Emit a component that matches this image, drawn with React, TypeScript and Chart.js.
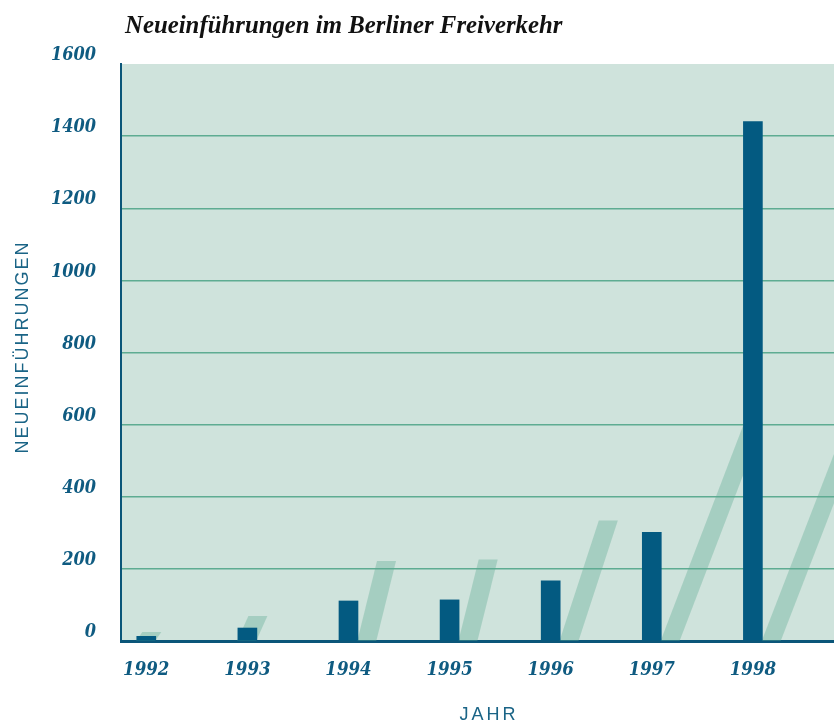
import React, { useEffect, useRef } from 'react';
import { Chart, registerables } from 'chart.js';

Chart.register(...registerables);

// ---- data ----
const years = [1992, 1993, 1994, 1995, 1996, 1997, 1998];
const newListings = [13, 36, 111, 114, 167, 301, 1440];
// decorative slanted "shadow" bands: base x, tip x (in year units) and tip height (in listings)
const shadowBaseX = [1991.899, 1992.899, 1994.087, 1995.087, 1996.087, 1997.087, 1998.087];
const shadowTipX = [1991.961, 1993.01, 1994.282, 1995.288, 1996.476, 1997.914, 2002.06];
const shadowTop = [25, 69, 222, 226, 334, 605, 2880];
const yTickValues = [0, 200, 400, 600, 800, 1000, 1200, 1400, 1600];

const chartTitle = 'Neueinführungen im Berliner Freiverkehr';
const xAxisTitle = 'JAHR';
const yAxisTitle = 'NEUEINFÜHRUNGEN';

// ---- styles ----
const PLOT_BG = '#cfe3dc';
const GRID = '#5eac92';
const BAR = '#035a81';
const AXIS = '#0b5679';
const TICK_TEXT = '#0f5b81';
const TITLE_TEXT = '#111111';
const AXIS_TITLE = '#1a6486';
const SHADOW = 'rgba(94,172,146,0.37)';
const SERIF = '"Liberation Serif", "Times New Roman", serif';
const TICK_SERIF = '"DejaVu Serif Condensed", "DejaVu Serif", serif';
const SANS = '"Liberation Sans", Arial, sans-serif';

const decorPlugin = {
  id: 'decor',
  beforeDraw(chart: any) {
    const { ctx, chartArea: a } = chart;
    ctx.save();
    ctx.fillStyle = PLOT_BG;
    ctx.fillRect(a.left, a.top, a.right - a.left, a.bottom - a.top);
    ctx.restore();
  },
  beforeDatasetsDraw(chart: any) {
    const { ctx, chartArea: a, scales } = chart;
    const xs = scales.x;
    const ys = scales.y;
    const meta = chart.getDatasetMeta(0);
    ctx.save();
    ctx.beginPath();
    ctx.rect(a.left, a.top, a.right - a.left, a.bottom - a.top);
    ctx.clip();
    ctx.fillStyle = SHADOW;
    years.forEach((_, i) => {
      const w = meta.data[i] ? meta.data[i].width : 19;
      const bx = xs.getPixelForValue(shadowBaseX[i]);
      const tx = xs.getPixelForValue(shadowTipX[i]);
      const y0 = ys.getPixelForValue(0);
      const yt = ys.getPixelForValue(shadowTop[i]);
      ctx.beginPath();
      ctx.moveTo(bx, y0);
      ctx.lineTo(bx + w, y0);
      ctx.lineTo(tx + w, yt);
      ctx.lineTo(tx, yt);
      ctx.closePath();
      ctx.fill();
    });
    ctx.restore();
  },
  afterDraw(chart: any) {
    const { ctx } = chart;
    ctx.save();
    // chart title
    ctx.fillStyle = TITLE_TEXT;
    ctx.font = `italic bold 24.8px ${SERIF}`;
    ctx.textAlign = 'left';
    ctx.textBaseline = 'alphabetic';
    ctx.fillText(chartTitle, 125, 33);

    // x axis title
    ctx.fillStyle = AXIS_TITLE;
    ctx.font = `18px ${SANS}`;
    (ctx as any).letterSpacing = '3px';
    ctx.textAlign = 'center';
    ctx.fillText(xAxisTitle, 489, 720);

    // y axis title
    (ctx as any).letterSpacing = '2px';
    ctx.translate(28, 347);
    ctx.rotate(-Math.PI / 2);
    ctx.fillText(yAxisTitle, 0, 0);
    ctx.restore();
  },
};

export default function App() {
  const ref = useRef<HTMLCanvasElement | null>(null);

  useEffect(() => {
    if (!ref.current) return;
    const chart = new Chart(ref.current, {
      type: 'bar',
      data: {
        datasets: [
          {
            label: 'Neueinführungen',
            data: years.map((y, i) => ({ x: y, y: newListings[i] })),
            backgroundColor: BAR,
            borderWidth: 0,
            barThickness: 19,
          },
        ],
      },
      options: {
        animation: false,
        responsive: false,
        devicePixelRatio: 1,
        layout: { padding: { top: 64, left: 0, right: 0, bottom: 0 } },
        plugins: {
          legend: { display: false },
          tooltip: { enabled: false },
          title: { display: false },
        },
        scales: {
          x: {
            type: 'linear',
            offset: false,
            min: 1991.75,
            max: 1999,
            afterBuildTicks: (scale: any) => {
              scale.ticks = years.map((v) => ({ value: v }));
            },
            afterFit: (scale: any) => {
              scale.height = 79;
            },
            grid: { display: false, drawTicks: false, offset: false },
            border: { display: true, color: AXIS, width: 3 },
            ticks: {
              padding: 18,
              color: TICK_TEXT,
              font: { family: TICK_SERIF, size: 18.5, style: 'italic', weight: 'bold' },
              callback: (v: any) => String(v),
              maxRotation: 0,
              autoSkip: false,
            },
          },
          y: {
            type: 'linear',
            min: 0,
            max: 1600,
            afterBuildTicks: (scale: any) => {
              scale.ticks = yTickValues.map((v) => ({ value: v }));
            },
            afterFit: (scale: any) => {
              scale.width = 121;
            },
            grid: {
              drawTicks: false,
              lineWidth: 1.5,
              color: (c: any) =>
                c.tick && (c.tick.value === 0 || c.tick.value === 1600) ? 'rgba(0,0,0,0)' : GRID,
            },
            border: { display: true, color: AXIS, width: 2 },
            ticks: {
              padding: 25,
              labelOffset: -8.5,
              color: TICK_TEXT,
              font: { family: TICK_SERIF, size: 18, style: 'italic', weight: 'bold' },
              callback: (v: any) => String(v),
            },
          },
        },
      },
      plugins: [decorPlugin],
    } as any);
    return () => chart.destroy();
  }, []);

  return (
    <div
      style={{
        position: 'absolute',
        left: 0,
        top: 0,
        width: 834,
        height: 720,
        overflow: 'hidden',
        background: '#ffffff',
      }}
    >
      <canvas ref={ref} width={854} height={720} style={{ display: 'block' }} />
    </div>
  );
}
